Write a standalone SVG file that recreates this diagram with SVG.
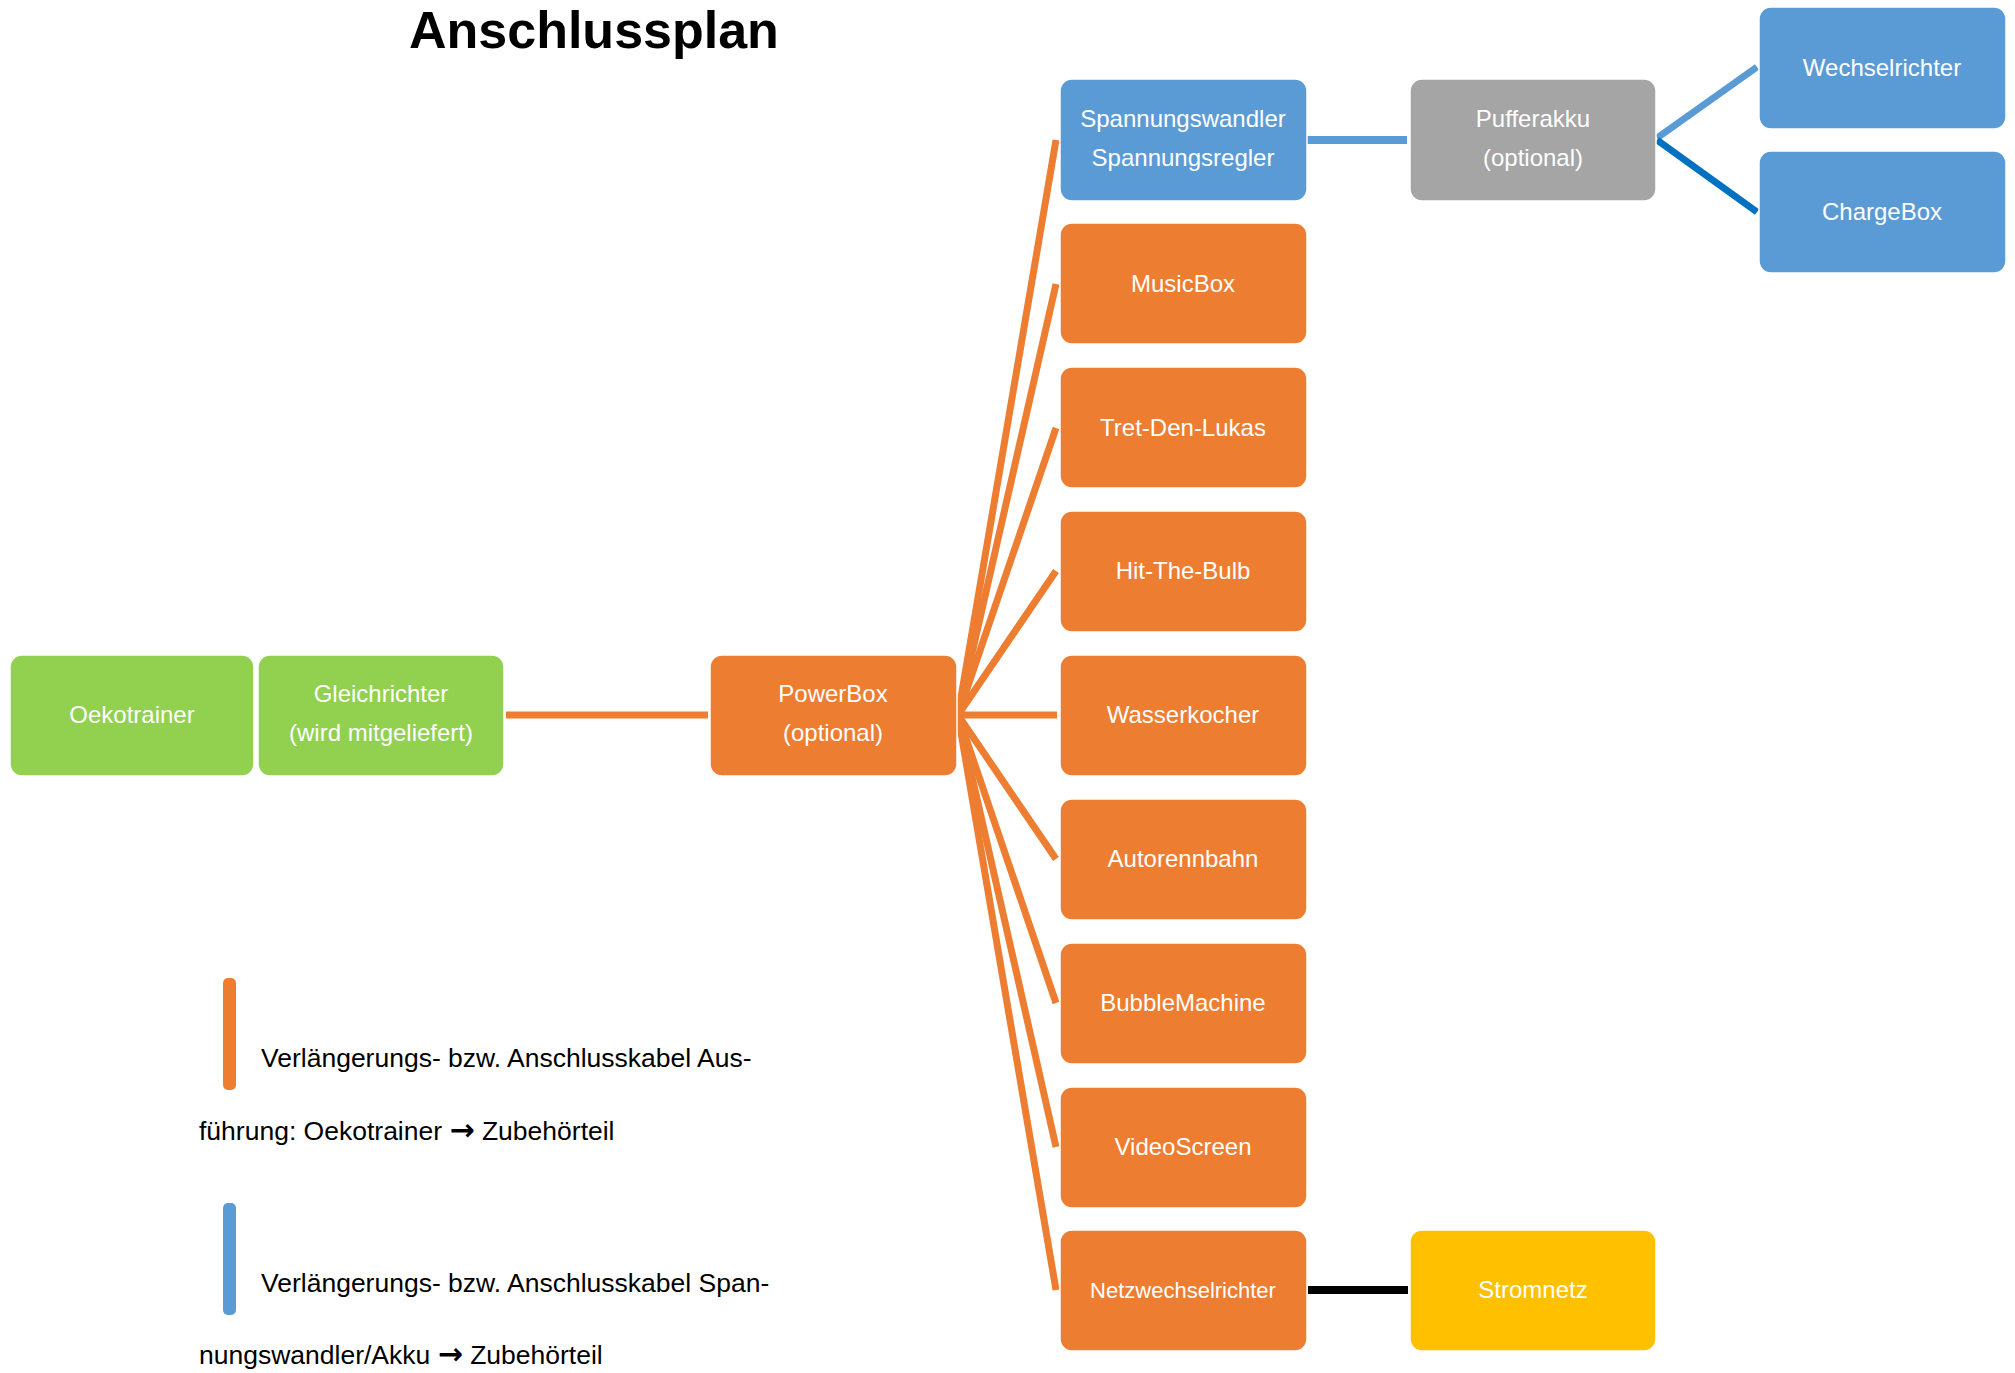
<svg xmlns="http://www.w3.org/2000/svg" width="2015" height="1373" viewBox="0 0 2015 1373">
<style>
.box{stroke:#ffffff;stroke-width:1.5}
.g{fill:#92D050}.o{fill:#ED7D31}.b{fill:#5B9BD5}.gr{fill:#A5A5A5}.y{fill:#FFC000}
.t{font-family:"Liberation Sans",Arial,sans-serif;font-size:24px;fill:#ffffff;text-anchor:middle}
.lg{font-family:"Liberation Sans",Arial,sans-serif;font-size:26.5px;fill:#000000}
.ar{font-family:"DejaVu Sans",sans-serif;font-weight:bold;font-size:30px}
.ol{stroke:#ED7D31;stroke-width:7;fill:none}
.title{font-family:"Liberation Sans",Arial,sans-serif;font-size:52px;font-weight:bold;fill:#000000}
</style>
<rect width="2015" height="1373" fill="#ffffff"/>
<text class="title" x="409" y="48">Anschlussplan</text>

<g id="connectors">
  <line class="ol" x1="506" y1="715" x2="708" y2="715" stroke-width="8"/>
  <line class="ol" x1="958" y1="715" x2="1056" y2="140"/>
  <line class="ol" x1="958" y1="715" x2="1056" y2="284"/>
  <line class="ol" x1="958" y1="715" x2="1056" y2="428"/>
  <line class="ol" x1="958" y1="715" x2="1056" y2="571"/>
  <line class="ol" x1="958" y1="715" x2="1057" y2="715" stroke-width="8"/>
  <line class="ol" x1="958" y1="715" x2="1056" y2="859"/>
  <line class="ol" x1="958" y1="715" x2="1056" y2="1003"/>
  <line class="ol" x1="958" y1="715" x2="1056" y2="1147"/>
  <line class="ol" x1="958" y1="715" x2="1056" y2="1290"/>
  <line x1="1307" y1="140" x2="1407" y2="140" stroke="#5B9BD5" stroke-width="8"/>
  <line x1="1657" y1="138" x2="1757" y2="67" stroke="#5B9BD5" stroke-width="7"/>
  <line x1="1657" y1="140" x2="1757" y2="212" stroke="#0070C0" stroke-width="7"/>
  <line x1="1308" y1="1290" x2="1408" y2="1290" stroke="#000000" stroke-width="8"/>
</g>

<g id="oekotrainer"><rect class="box g" x="10" y="655" width="244" height="121" rx="12"/><text class="t" x="132" y="723">Oekotrainer</text></g>
<g id="gleichrichter"><rect class="box g" x="258" y="655" width="246" height="121" rx="12"/><text class="t" x="381" y="702">Gleichrichter</text><text class="t" x="381" y="741">(wird mitgeliefert)</text></g>
<g id="powerbox"><rect class="box o" x="710" y="655" width="247" height="121" rx="12"/><text class="t" x="833" y="702">PowerBox</text><text class="t" x="833" y="741">(optional)</text></g>

<g id="spannungswandler"><rect class="box b" x="1060" y="79" width="247" height="122" rx="12"/><text class="t" x="1183" y="127">Spannungswandler</text><text class="t" x="1183" y="166">Spannungsregler</text></g>
<g id="musicbox"><rect class="box o" x="1060" y="223" width="247" height="121" rx="12"/><text class="t" x="1183" y="292">MusicBox</text></g>
<g id="tret-den-lukas"><rect class="box o" x="1060" y="367" width="247" height="121" rx="12"/><text class="t" x="1183" y="436">Tret-Den-Lukas</text></g>
<g id="hit-the-bulb"><rect class="box o" x="1060" y="511" width="247" height="121" rx="12"/><text class="t" x="1183" y="579">Hit-The-Bulb</text></g>
<g id="wasserkocher"><rect class="box o" x="1060" y="655" width="247" height="121" rx="12"/><text class="t" x="1183" y="723">Wasserkocher</text></g>
<g id="autorennbahn"><rect class="box o" x="1060" y="799" width="247" height="121" rx="12"/><text class="t" x="1183" y="867">Autorennbahn</text></g>
<g id="bubblemachine"><rect class="box o" x="1060" y="943" width="247" height="121" rx="12"/><text class="t" x="1183" y="1011">BubbleMachine</text></g>
<g id="videoscreen"><rect class="box o" x="1060" y="1087" width="247" height="121" rx="12"/><text class="t" x="1183" y="1155">VideoScreen</text></g>
<g id="netzwechselrichter"><rect class="box o" x="1060" y="1230" width="247" height="121" rx="12"/><text class="t" x="1183" y="1298" style="font-size:22px">Netzwechselrichter</text></g>

<g id="pufferakku"><rect class="box gr" x="1410" y="79" width="246" height="122" rx="12"/><text class="t" x="1533" y="127">Pufferakku</text><text class="t" x="1533" y="166">(optional)</text></g>
<g id="wechselrichter"><rect class="box b" x="1759" y="7" width="247" height="122" rx="12"/><text class="t" x="1882" y="76">Wechselrichter</text></g>
<g id="chargebox"><rect class="box b" x="1759" y="151" width="247" height="122" rx="12"/><text class="t" x="1882" y="220">ChargeBox</text></g>
<g id="stromnetz"><rect class="box y" x="1410" y="1230" width="246" height="121" rx="12"/><text class="t" x="1533" y="1298">Stromnetz</text></g>

<g id="legend">
  <rect x="223" y="978" width="13" height="112" rx="5" fill="#ED7D31"/>
  <text class="lg" x="261" y="1067">Verlängerungs- bzw. Anschlusskabel Aus-</text>
  <text class="lg" x="199" y="1140">führung: Oekotrainer <tspan class="ar">→</tspan> Zubehörteil</text>
  <rect x="223" y="1203" width="13" height="112" rx="5" fill="#5B9BD5"/>
  <text class="lg" x="261" y="1292">Verlängerungs- bzw. Anschlusskabel Span-</text>
  <text class="lg" x="199" y="1364">nungswandler/Akku <tspan class="ar">→</tspan> Zubehörteil</text>
</g>
</svg>
